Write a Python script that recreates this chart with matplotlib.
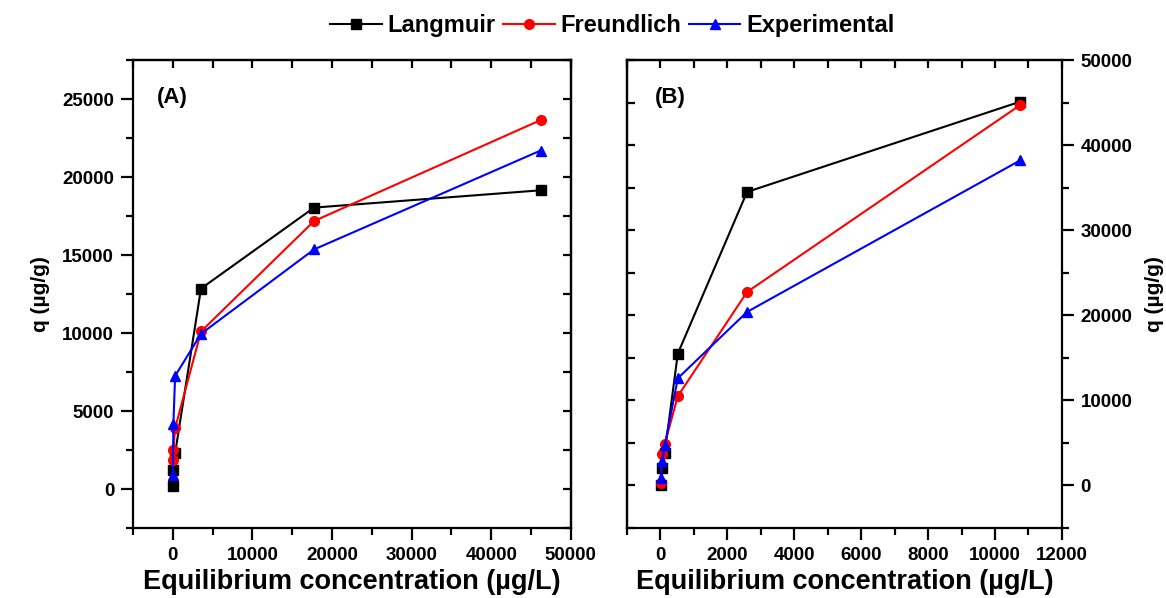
import matplotlib
matplotlib.use("Agg")
import matplotlib.pyplot as plt
from matplotlib.ticker import MultipleLocator

plt.rcParams['font.family'] = ['Liberation Sans', 'DejaVu Sans']
plt.rcParams['font.weight'] = 'bold'

# Panel A data (equilibrium conc. in ug/L, q in ug/g)
a_x = [20, 80, 300, 3550, 17750, 46200]
a_langmuir = [200, 1200, 2300, 12850, 18040, 19150]
a_freundlich = [1850, 2500, 3900, 10100, 17180, 23650]
a_experimental = [900, 4150, 7250, 9950, 15360, 21700]

# Panel B data
b_x = [5, 60, 130, 520, 2590, 10750]
b_langmuir = [100, 2000, 3850, 15500, 34500, 45100]
b_freundlich = [300, 3700, 4900, 10500, 22740, 44700]
b_experimental = [900, 2900, 4700, 12600, 20400, 38200]

series_names = ["Langmuir", "Freundlich", "Experimental"]
colors = ["black", "#ff0000", "#0000ff"]
markers = ["s", "o", "^"]

fig = plt.figure(figsize=(11.66, 5.98), dpi=100)
axA = fig.add_axes([0.114, 0.117, 0.3756, 0.7826])
axB = fig.add_axes([0.5377, 0.117, 0.373, 0.7826])

def draw_series(ax, x, ys):
    handles = []
    for y, name, c, m in zip(ys, series_names, colors, markers):
        h, = ax.plot(x, y, color=c, marker=m, markersize=7, linewidth=1.5,
                     label=name)
        handles.append(h)
    return handles

handles = draw_series(axA, a_x, [a_langmuir, a_freundlich, a_experimental])
draw_series(axB, b_x, [b_langmuir, b_freundlich, b_experimental])

tick_font = 13.5
xlabel_font = 19.5
ylabel_font = 15
maj_len, min_len, in_len = 8.5, 5, 6

def set_lw(ax):
    for s in ax.spines.values():
        s.set_linewidth(1.6)

# Panel A
axA.set_xlim(-5000, 50000)
axA.set_ylim(-2500, 27500)
axA.xaxis.set_major_locator(MultipleLocator(10000))
axA.xaxis.set_minor_locator(MultipleLocator(5000))
axA.yaxis.set_major_locator(MultipleLocator(5000))
axA.yaxis.set_minor_locator(MultipleLocator(2500))
axA.tick_params(which='major', direction='out', length=maj_len, width=1.6,
                labelsize=tick_font, pad=5, top=False, right=False)
axA.tick_params(which='minor', direction='out', length=min_len, width=1.6,
                top=False, right=False)
topA = axA.secondary_xaxis('top')
topA.xaxis.set_major_locator(MultipleLocator(5000))
topA.tick_params(direction='in', length=in_len, width=1.6, labeltop=False)
rightA = axA.secondary_yaxis('right')
rightA.yaxis.set_major_locator(MultipleLocator(2500))
rightA.tick_params(direction='in', length=in_len, width=1.6, labelright=False)
axA.set_xlabel("Equilibrium concentration (µg/L)", fontsize=xlabel_font,
               fontweight='bold', labelpad=4)
axA.set_ylabel("q (µg/g)", fontsize=ylabel_font, fontweight='bold', labelpad=9)
axA.text(0.055, 0.92, "(A)", transform=axA.transAxes, fontsize=16,
         fontweight='bold', va='center')
for a in (axA, topA, rightA):
    set_lw(a)

# Panel B
axB.set_xlim(-1000, 12000)
axB.set_ylim(-5000, 50000)
axB.xaxis.set_major_locator(MultipleLocator(2000))
axB.xaxis.set_minor_locator(MultipleLocator(1000))
axB.yaxis.set_major_locator(MultipleLocator(10000))
axB.yaxis.set_minor_locator(MultipleLocator(5000))
axB.yaxis.tick_right()
axB.yaxis.set_label_position('right')
axB.tick_params(which='major', direction='out', length=maj_len, width=1.6,
                labelsize=tick_font, pad=5, top=False, left=False)
axB.tick_params(which='minor', direction='out', length=min_len, width=1.6,
                top=False, left=False)
topB = axB.secondary_xaxis('top')
topB.xaxis.set_major_locator(MultipleLocator(1000))
topB.tick_params(direction='in', length=in_len, width=1.6, labeltop=False)
leftB = axB.secondary_yaxis('left')
leftB.yaxis.set_major_locator(MultipleLocator(5000))
leftB.tick_params(direction='in', length=in_len, width=1.6, labelleft=False)
axB.set_xlabel("Equilibrium concentration (µg/L)", fontsize=xlabel_font,
               fontweight='bold', labelpad=4)
axB.set_ylabel("q (µg/g)", fontsize=ylabel_font, fontweight='bold',
               labelpad=9, rotation=90)
axB.text(0.064, 0.92, "(B)", transform=axB.transAxes, fontsize=16,
         fontweight='bold', va='center')
for a in (axB, topB, leftB):
    set_lw(a)

for ax in (axA, axB):
    for lbl in ax.get_xticklabels() + ax.get_yticklabels():
        lbl.set_fontweight('bold')

fig.legend(handles=handles, labels=series_names, loc='upper center',
           bbox_to_anchor=(0.525, 1.012), ncol=3, frameon=False,
           handlelength=2.2, handletextpad=0.25, columnspacing=0.3,
           prop={'weight': 'bold', 'size': 17})

fig.savefig("out.png", dpi=100)
